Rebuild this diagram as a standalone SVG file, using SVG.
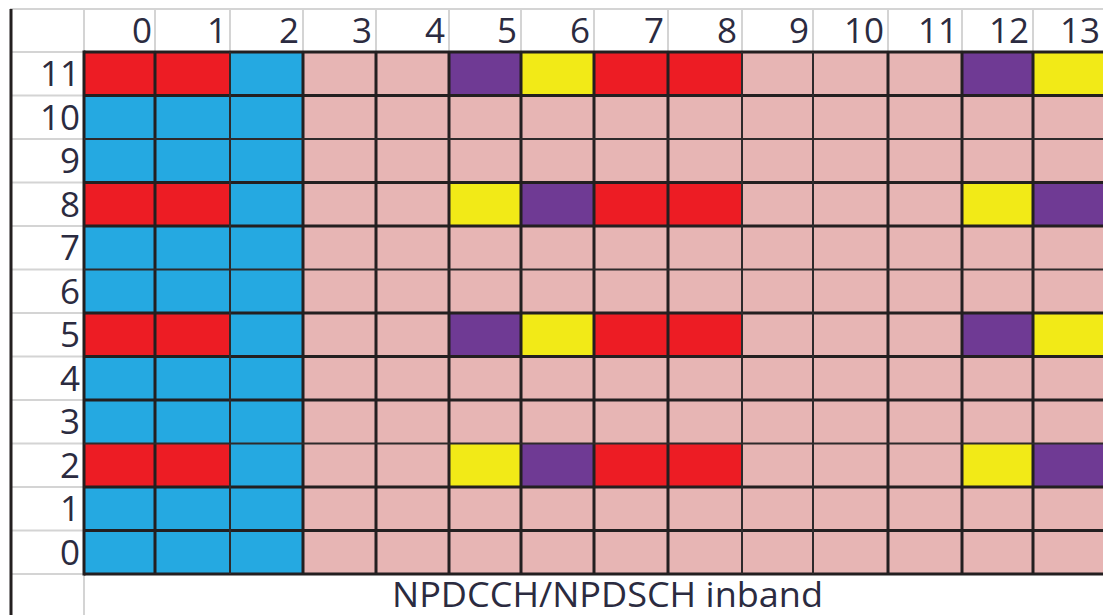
<svg xmlns="http://www.w3.org/2000/svg" width="1103" height="615" viewBox="0 0 1103 615">
<style>
.r{fill:#ed1c24}.b{fill:#25a9e1}.p{fill:#e7b5b4}.u{fill:#6f3a94}.y{fill:#f2ea17}
.g{stroke:#d4d4d4;stroke-width:2;fill:none}
.k{stroke:#231f20;stroke-width:3;fill:none}
.t{stroke:#2e2a2b;stroke-width:2;fill:none}
.lbl{font-family:"Open Sans","Noto Sans",sans-serif;font-size:35px;fill:#2b2b40;text-anchor:end}
.cap{font-family:"Open Sans","Noto Sans",sans-serif;font-size:35px;fill:#2b2b40;text-anchor:middle}
</style>
<rect x="0" y="0" width="1103" height="615" fill="#ffffff"/>
<g id="frame">
<line class="g" x1="10" y1="9" x2="1103" y2="9"/>
<g class="g">
<line x1="84" y1="10" x2="84" y2="52"/><line x1="155" y1="10" x2="155" y2="52"/><line x1="230" y1="10" x2="230" y2="52"/><line x1="303" y1="10" x2="303" y2="52"/><line x1="376" y1="10" x2="376" y2="52"/><line x1="449" y1="10" x2="449" y2="52"/><line x1="521" y1="10" x2="521" y2="52"/><line x1="594" y1="10" x2="594" y2="52"/><line x1="668" y1="10" x2="668" y2="52"/><line x1="742" y1="10" x2="742" y2="52"/><line x1="813" y1="10" x2="813" y2="52"/><line x1="888" y1="10" x2="888" y2="52"/><line x1="962" y1="10" x2="962" y2="52"/><line x1="1033" y1="10" x2="1033" y2="52"/>
<line x1="12" y1="52" x2="84" y2="52"/><line x1="12" y1="95.5" x2="84" y2="95.5"/><line x1="12" y1="139" x2="84" y2="139"/><line x1="12" y1="182.5" x2="84" y2="182.5"/><line x1="12" y1="226" x2="84" y2="226"/><line x1="12" y1="269.5" x2="84" y2="269.5"/><line x1="12" y1="313" x2="84" y2="313"/><line x1="12" y1="356.5" x2="84" y2="356.5"/><line x1="12" y1="400" x2="84" y2="400"/><line x1="12" y1="443.5" x2="84" y2="443.5"/><line x1="12" y1="487" x2="84" y2="487"/><line x1="12" y1="530.5" x2="84" y2="530.5"/><line x1="12" y1="574" x2="84" y2="574"/>
<line x1="84" y1="574" x2="84" y2="615"/>
</g>
<line x1="11" y1="9" x2="11" y2="615" stroke="#231f20" stroke-width="3"/>
</g>
<g id="grid-fill">
<rect class="p" x="84" y="52" width="1022" height="522"/>
<rect class="b" x="84" y="52" width="219" height="522"/>
</g>
<g id="row-11">
<rect class="r" x="84" y="52" width="146" height="43.5"/>
<rect class="u" x="449" y="52" width="72" height="43.5"/>
<rect class="y" x="521" y="52" width="73" height="43.5"/>
<rect class="r" x="594" y="52" width="148" height="43.5"/>
<rect class="u" x="962" y="52" width="71" height="43.5"/>
<rect class="y" x="1033" y="52" width="73" height="43.5"/>
</g>
<g id="row-8">
<rect class="r" x="84" y="182.5" width="146" height="43.5"/>
<rect class="y" x="449" y="182.5" width="72" height="43.5"/>
<rect class="u" x="521" y="182.5" width="73" height="43.5"/>
<rect class="r" x="594" y="182.5" width="148" height="43.5"/>
<rect class="y" x="962" y="182.5" width="71" height="43.5"/>
<rect class="u" x="1033" y="182.5" width="73" height="43.5"/>
</g>
<g id="row-5">
<rect class="r" x="84" y="313" width="146" height="43.5"/>
<rect class="u" x="449" y="313" width="72" height="43.5"/>
<rect class="y" x="521" y="313" width="73" height="43.5"/>
<rect class="r" x="594" y="313" width="148" height="43.5"/>
<rect class="u" x="962" y="313" width="71" height="43.5"/>
<rect class="y" x="1033" y="313" width="73" height="43.5"/>
</g>
<g id="row-2">
<rect class="r" x="84" y="443.5" width="146" height="43.5"/>
<rect class="y" x="449" y="443.5" width="72" height="43.5"/>
<rect class="u" x="521" y="443.5" width="73" height="43.5"/>
<rect class="r" x="594" y="443.5" width="148" height="43.5"/>
<rect class="y" x="962" y="443.5" width="71" height="43.5"/>
<rect class="u" x="1033" y="443.5" width="73" height="43.5"/>
</g>
<g id="grid-lines">
<g class="k">
<line x1="84" y1="50.5" x2="84" y2="575.5"/><line x1="155" y1="52" x2="155" y2="574"/><line x1="303" y1="52" x2="303" y2="574"/><line x1="376" y1="52" x2="376" y2="574"/><line x1="449" y1="52" x2="449" y2="574"/><line x1="521" y1="52" x2="521" y2="574"/><line x1="594" y1="52" x2="594" y2="574"/><line x1="668" y1="52" x2="668" y2="574"/><line x1="888" y1="52" x2="888" y2="574"/><line x1="962" y1="52" x2="962" y2="574"/><line x1="1033" y1="52" x2="1033" y2="574"/>
<line x1="84" y1="52" x2="1106" y2="52"/><line x1="84" y1="95.5" x2="1106" y2="95.5"/><line x1="84" y1="182.5" x2="1106" y2="182.5"/><line x1="84" y1="226" x2="1106" y2="226"/><line x1="84" y1="313" x2="1106" y2="313"/><line x1="84" y1="356.5" x2="1106" y2="356.5"/><line x1="84" y1="400" x2="1106" y2="400"/><line x1="84" y1="487" x2="1106" y2="487"/><line x1="84" y1="530.5" x2="1106" y2="530.5"/><line x1="84" y1="574" x2="1106" y2="574"/>
</g>
<g class="t">
<line x1="230" y1="52" x2="230" y2="574"/><line x1="742" y1="52" x2="742" y2="574"/><line x1="813" y1="52" x2="813" y2="574"/>
<line x1="84" y1="139" x2="1106" y2="139"/><line x1="84" y1="269.5" x2="1106" y2="269.5"/><line x1="84" y1="443.5" x2="1106" y2="443.5"/>
</g>
</g>
<g id="col-labels" class="lbl">
<text x="152" y="43">0</text><text x="227" y="43">1</text><text x="299" y="43">2</text><text x="372" y="43">3</text><text x="445" y="43">4</text><text x="517" y="43">5</text><text x="590" y="43">6</text><text x="664" y="43">7</text><text x="737" y="43">8</text><text x="809" y="43">9</text><text x="884" y="43">10</text><text x="958" y="43">11</text><text x="1029" y="43">12</text><text x="1100" y="43">13</text>
</g>
<g id="row-labels" class="lbl">
<text x="80" y="86">11</text><text x="80" y="129.5">10</text><text x="80" y="173">9</text><text x="80" y="216.5">8</text><text x="80" y="260">7</text><text x="80" y="303.5">6</text><text x="80" y="347">5</text><text x="80" y="390.5">4</text><text x="80" y="434">3</text><text x="80" y="477.5">2</text><text x="80" y="521">1</text><text x="80" y="564.5">0</text>
</g>
<g id="caption">
<text class="cap" x="607.5" y="607" textLength="431" lengthAdjust="spacingAndGlyphs">NPDCCH/NPDSCH inband</text>
</g>
</svg>
